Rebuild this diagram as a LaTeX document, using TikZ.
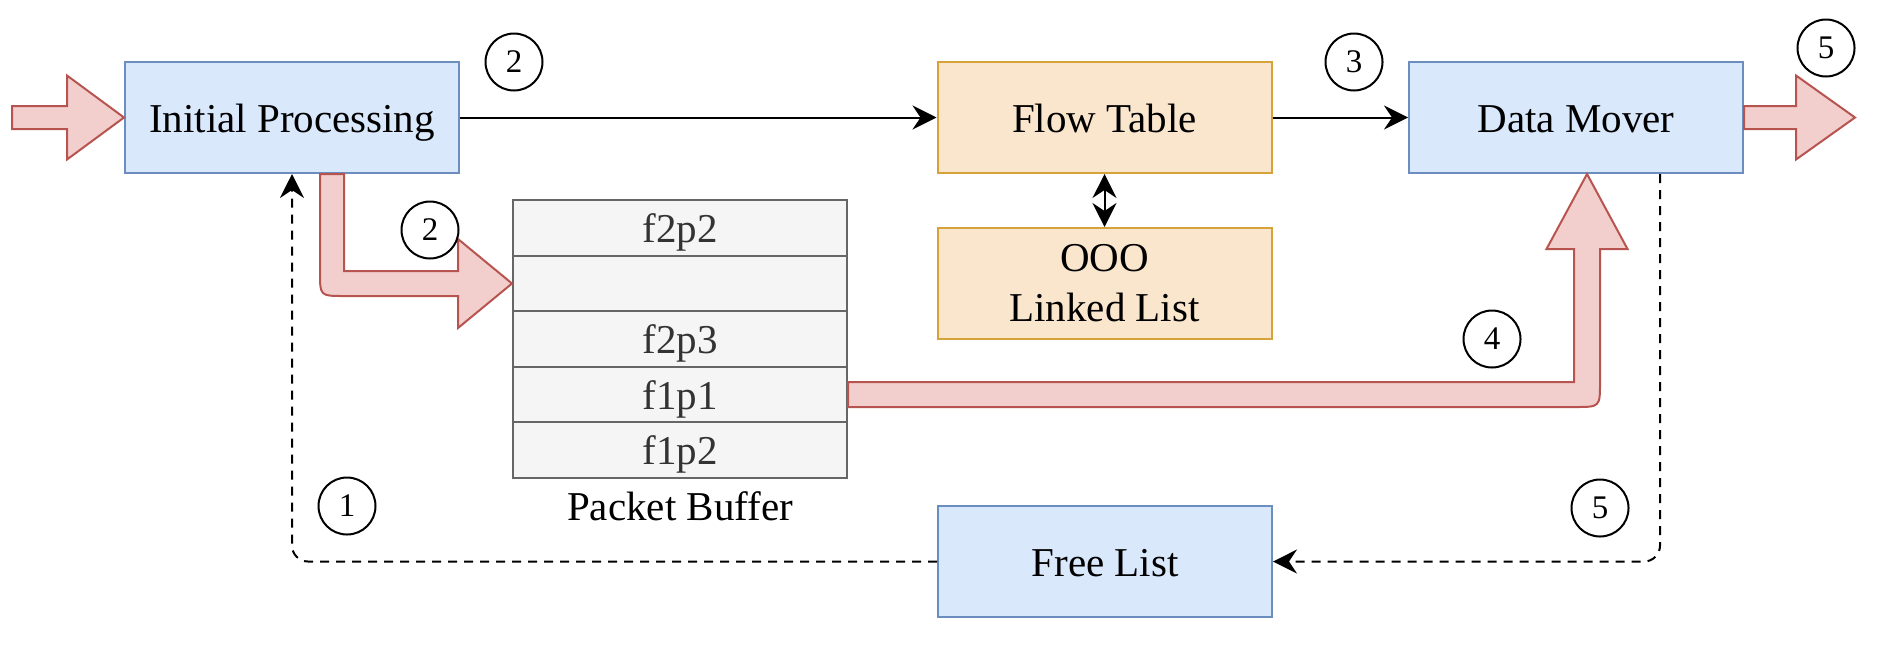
\documentclass[tikz,border=0pt]{standalone}
\usepackage{fontspec}
\setmainfont{Liberation Serif}
\usetikzlibrary{arrows.meta,calc}
\definecolor{bfill}{HTML}{DAE8FC}
\definecolor{bdraw}{HTML}{6C8EBF}
\definecolor{ofill}{HTML}{F9E6CD}
\definecolor{odraw}{HTML}{D6A23A}
\definecolor{rfill}{HTML}{F2CFCD}
\definecolor{rdraw}{HTML}{B85450}
\definecolor{gfill}{HTML}{F5F5F5}
\definecolor{gdraw}{HTML}{666666}
\definecolor{gtext}{HTML}{333333}
\begin{document}
\begin{tikzpicture}[x=0.5pt,y=-0.5pt,
  box/.style={draw, line width=1pt, minimum width=167pt, minimum height=55.5pt, inner sep=0pt, font=\fontsize{20.5}{25}\selectfont},
  onel/.style={text height=14.5pt, text depth=0pt},
  bluebox/.style={box, fill=bfill, draw=bdraw},
  orangebox/.style={box, fill=ofill, draw=odraw},
  cell/.style={box, onel, fill=gfill, draw=gdraw, text=gtext, minimum height=27.8pt},
  num/.style={circle, draw, line width=1pt, minimum size=28.5pt, inner sep=0pt, font=\fontsize{16.5}{18}\selectfont},
  tip/.style={Stealth[length=12pt,width=12pt,inset=4pt]},
  conn/.style={line width=1pt, -{Stealth[length=12pt,width=12pt,inset=4pt]}},
  dconn/.style={conn, dash pattern=on 4.5pt off 3.5pt, rounded corners=8pt},
  block/.style={fill=rfill, draw=rdraw, line width=1pt, line join=miter},
]
\useasboundingbox (0,0) rectangle (1882,644);

% boxes
\node[bluebox,onel] (ip) at (292,117.5) {Initial Processing};
\node[orangebox,onel] (ft) at (1104.5,117.5) {Flow Table};
\node[orangebox,align=center] (ooo) at (1104.5,283.5) {OOO\\Linked List};
\node[bluebox,onel] (dm) at (1576,117.5) {Data Mover};
\node[bluebox,onel] (fl) at (1105,561.5) {Free List};

% packet buffer
\node[cell] (b1) at (680,228) {f2p2};
\node[cell] (b2) at (680,283.5) {};
\node[cell] (b3) at (680,339) {f2p3};
\node[cell] (b4) at (680,394.5) {f1p1};
\node[cell] (b5) at (680,450) {f1p2};
\node[font=\fontsize{20.5}{25}\selectfont, anchor=base, inner sep=0pt] (pbl) at (680,520) {Packet Buffer};

% black connectors
\draw[conn] (ip) -- (ft);
\draw[conn] (ft) -- (dm);
\draw[line width=1pt, {Stealth[length=12pt,width=12pt,inset=4pt]}-{Stealth[length=12pt,width=12pt,inset=4pt]}] (ft.south) -- (ooo.north);

% dashed connectors
\draw[dconn] (fl.west) -| (ip.south);
\coordinate (dmo) at ($(dm.south west)!0.75!(dm.south east)$);
\draw[dconn] (dmo) |- (fl.east);

% input block arrow
\coordinate (inT) at (ip.west);
\draw[block] (inT) -- ++(-57,-42) -- ++(0,30.5) -- ++(-55,0) -- ++(0,23) -- ++(55,0) -- ++(0,30.5) -- cycle;

% output block arrow
\draw[block] (dm.east) ++(0,-11.5) -- ++(52,0) -- ++(0,-30.5) -- ++(59,42) -- ++(-59,42) -- ++(0,-30.5) -- ++(-52,0) -- cycle;

% L block arrow from initial processing to buffer
\coordinate (t2) at (b2.west);
\coordinate (s1) at ($(ip.south)+(28,0)$);
\coordinate (s2) at ($(ip.south)+(52,0)$);
\draw[block] (s1) -- ($(s1 |- t2)+(0,-11.5)$) .. controls ($(s1 |- t2)+(0,12.5)$) .. ($(s1 |- t2)+(24,12.5)$) -- ($(t2)+(-54,12.5)$) -- ($(t2)+(-54,44.5)$) -- (t2) -- ($(t2)+(-54,-44.5)$) -- ($(t2)+(-54,-12.5)$) -- ($(s2 |- t2)+(0,-12.5)$) -- (s2) -- cycle;

% block arrow from buffer to data mover
\coordinate (t4) at ($(dm.south)+(11,0)$);
\coordinate (u4) at ($(b4.east)+(0,-12.5)$);
\coordinate (d4) at ($(b4.east)+(0,12.5)$);
\coordinate (hb4) at ($(t4)+(0,75)$);
\draw[block] (u4) -- ($(t4 |- u4)+(-13,0)$) -- ($(hb4)+(-13,0)$) -- ($(hb4)+(-40.5,0)$) -- (t4) -- ($(hb4)+(40.5,0)$) -- ($(hb4)+(13,0)$) -- ($(t4 |- d4)+(13,-25)$) .. controls ($(t4 |- d4)+(13,0)$) .. ($(t4 |- d4)+(-12,0)$) -- (d4) -- cycle;

% step numbers
\node[num] (c2a) at (514,62) {2};
\node[num] (c2b) at (430,230) {2};
\node[num] (c3) at (1354,62) {3};
\node[num] (c5a) at (1826,48) {5};
\node[num] (c4) at (1492,339) {4};
\node[num] (c1) at (347,506) {1};
\node[num] (c5b) at (1600,508) {5};
\end{tikzpicture}
\end{document}
